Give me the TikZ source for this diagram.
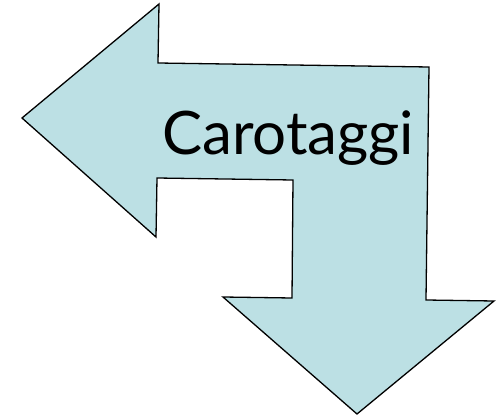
\documentclass[tikz,border=0pt]{standalone}
\usepackage{fontspec}
\setmainfont{Lato}
\definecolor{arrowfill}{RGB}{188,224,228}
\tikzset{bentarrow/.style={draw=black, line width=1.3pt, fill=arrowfill, line join=miter},
  labeltext/.style={font=\fontsize{60}{60}\selectfont, inner sep=0pt, anchor=base west}}
\begin{document}
\begin{tikzpicture}[x=1pt,y=-1pt]
\useasboundingbox (0,0) rectangle (499,420);
\draw[bentarrow] (22,118) -- (159,4) -- (158,63) -- (429,67) -- (426,300) -- (494,301)
  -- (357,414) -- (223,297) -- (292,298) -- (293,180) -- (157,178) -- (156,237) -- cycle;
\node[labeltext] (lbl) at (162,155) {Carotaggi};
\end{tikzpicture}
\end{document}
